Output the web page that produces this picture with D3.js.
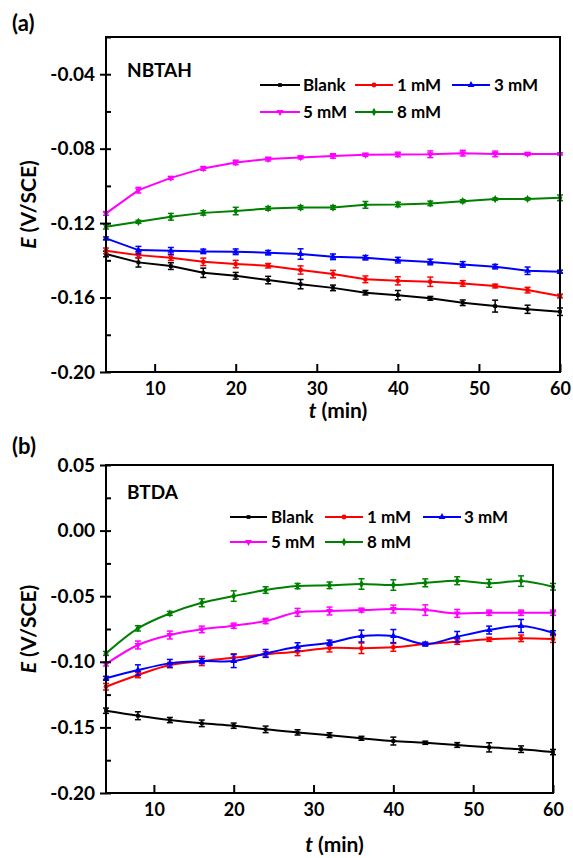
<!DOCTYPE html>
<html>
<head>
<meta charset="utf-8">
<script src="https://cdn.jsdelivr.net/npm/d3@7"></script>
<style>
  html, body { margin: 0; padding: 0; background: #fff; }
  svg { display: block; font-family: Lato, "Open Sans", sans-serif; font-weight: bold; }
</style>
</head>
<body>
<svg id="chart" width="573" height="858"></svg>
<script>
// ---------- DATA ----------
const times = [4, 8, 12, 16, 20, 24, 28, 32, 36, 40, 44, 48, 52, 56, 60];
const seriesNames = ["Blank", "1 mM", "3 mM", "5 mM", "8 mM"];
const seriesColors = ["#000000", "#ff0000", "#0000ff", "#ff00ff", "#008000"];

// Panel (a) NBTAH
const aBlank = [-0.1366, -0.1411, -0.1431, -0.1467, -0.1483, -0.1506, -0.1528, -0.1548, -0.1574, -0.1587, -0.1604, -0.1628, -0.1646, -0.1663, -0.1676];
const aBlankErr = [0.0015, 0.0025, 0.0018, 0.0025, 0.0018, 0.0020, 0.0025, 0.0015, 0.0012, 0.0025, 0.0010, 0.0015, 0.0032, 0.0022, 0.0020];
const a1mM = [-0.1349, -0.1372, -0.1386, -0.1408, -0.1420, -0.1429, -0.1452, -0.1474, -0.1502, -0.1510, -0.1515, -0.1524, -0.1538, -0.1560, -0.1592];
const a1mMErr = [0.0015, 0.0015, 0.0015, 0.0020, 0.0020, 0.0012, 0.0022, 0.0020, 0.0018, 0.0022, 0.0025, 0.0015, 0.0010, 0.0015, 0.0010];
const a3mM = [-0.1282, -0.1345, -0.1349, -0.1352, -0.1354, -0.1359, -0.1366, -0.1381, -0.1386, -0.1399, -0.1409, -0.1422, -0.1434, -0.1456, -0.1461];
const a3mMErr = [0.0008, 0.0020, 0.0018, 0.0012, 0.0015, 0.0012, 0.0028, 0.0015, 0.0012, 0.0015, 0.0015, 0.0015, 0.0012, 0.0020, 0.0008];
const a5mM = [-0.1148, -0.1023, -0.0957, -0.0906, -0.0874, -0.0856, -0.0847, -0.0839, -0.0833, -0.0831, -0.0830, -0.0824, -0.0828, -0.0828, -0.0828];
const a5mMErr = [0.0010, 0.0015, 0.0008, 0.0010, 0.0012, 0.0010, 0.0008, 0.0012, 0.0008, 0.0012, 0.0018, 0.0015, 0.0015, 0.0008, 0.0006];
const a8mM = [-0.1220, -0.1193, -0.1166, -0.1145, -0.1135, -0.1121, -0.1116, -0.1116, -0.1102, -0.1100, -0.1094, -0.1082, -0.1071, -0.1070, -0.1064];
const a8mMErr = [0.0012, 0.0008, 0.0018, 0.0012, 0.0020, 0.0010, 0.0010, 0.0010, 0.0018, 0.0012, 0.0012, 0.0008, 0.0006, 0.0006, 0.0015];

// Panel (b) BTDA
const bBlank = [-0.1373, -0.1411, -0.1444, -0.1469, -0.1487, -0.1515, -0.1538, -0.1559, -0.1583, -0.1604, -0.1617, -0.1634, -0.1652, -0.1666, -0.1688];
const bBlankErr = [0.0020, 0.0030, 0.0020, 0.0025, 0.0020, 0.0025, 0.0020, 0.0018, 0.0015, 0.0030, 0.0012, 0.0018, 0.0035, 0.0025, 0.0020];
const b1mM = [-0.1190, -0.1101, -0.1025, -0.0994, -0.0969, -0.0943, -0.0923, -0.0895, -0.0897, -0.0890, -0.0865, -0.0847, -0.0829, -0.0821, -0.0827];
const b1mMErr = [0.0025, 0.0020, 0.0020, 0.0035, 0.0030, 0.0020, 0.0030, 0.0030, 0.0040, 0.0030, 0.0010, 0.0020, 0.0015, 0.0025, 0.0025];
const b3mM = [-0.1126, -0.1063, -0.1012, -0.0994, -0.0994, -0.0936, -0.0885, -0.0855, -0.0804, -0.0804, -0.0865, -0.0809, -0.0758, -0.0727, -0.0778];
const b3mMErr = [0.0015, 0.0040, 0.0030, 0.0020, 0.0050, 0.0030, 0.0030, 0.0020, 0.0045, 0.0050, 0.0015, 0.0040, 0.0030, 0.0050, 0.0015];
const b5mM = [-0.1017, -0.0872, -0.0796, -0.0753, -0.0725, -0.0689, -0.0623, -0.0613, -0.0606, -0.0598, -0.0606, -0.0631, -0.0626, -0.0626, -0.0626];
const b5mMErr = [0.0015, 0.0030, 0.0030, 0.0025, 0.0020, 0.0020, 0.0030, 0.0030, 0.0015, 0.0030, 0.0040, 0.0030, 0.0020, 0.0020, 0.0020];
const b8mM = [-0.0936, -0.0745, -0.0631, -0.0550, -0.0499, -0.0453, -0.0423, -0.0417, -0.0407, -0.0415, -0.0398, -0.0382, -0.0402, -0.0385, -0.0428];
const b8mMErr = [0.0015, 0.0020, 0.0015, 0.0030, 0.0040, 0.0025, 0.0020, 0.0025, 0.0040, 0.0040, 0.0030, 0.0030, 0.0030, 0.0040, 0.0025];

const xTicks = [10, 20, 30, 40, 50, 60];
const aYTicks = [-0.20, -0.16, -0.12, -0.08, -0.04];
const aYMinor = [-0.18, -0.14, -0.10, -0.06, -0.02];
const bYTicks = [-0.20, -0.15, -0.10, -0.05, 0.00, 0.05];
const bYMinor = [-0.175, -0.125, -0.075, -0.025, 0.025];

const hyphenLocale = d3.formatLocale({decimal: ".", thousands: ",", grouping: [3], currency: ["", ""], minus: "-"});
const yFormat = hyphenLocale.format(".2f");

const panels = [
  {
    tag: "(a)", name: "NBTAH",
    box: {left: 106, right: 560, top: 37, bottom: 372},
    yDomain: [-0.20, -0.02], yTicks: aYTicks, yMinor: aYMinor,
    series: [[aBlank, aBlankErr], [a1mM, a1mMErr], [a3mM, a3mMErr], [a5mM, a5mMErr], [a8mM, a8mMErr]],
    curve: d3.curveLinear,
    tagPos: [12, 31], namePos: [127, 77],
    legend: {rows: [85, 112], cols: [[260, 300, 303], [355, 393, 397], [452, 490, 494]]},
    xTitleY: 418
  },
  {
    tag: "(b)", name: "BTDA",
    box: {left: 106, right: 553, top: 465, bottom: 793},
    yDomain: [-0.20, 0.05], yTicks: bYTicks, yMinor: bYMinor,
    series: [[bBlank, bBlankErr], [b1mM, b1mMErr], [b3mM, b3mMErr], [b5mM, b5mMErr], [b8mM, b8mMErr]],
    curve: d3.curveCatmullRom.alpha(0.5),
    tagPos: [12, 454], namePos: [127, 499],
    legend: {rows: [517, 542], cols: [[230, 267, 271], [325, 363, 367], [423, 461, 464]]},
    xTitleY: 852
  }
];

const symbols = [
  {type: d3.symbolSquare, size: 14, rot: 0},
  {type: d3.symbolCircle, size: 18, rot: 0},
  {type: d3.symbolTriangle, size: 20, rot: 0},
  {type: d3.symbolTriangle, size: 20, rot: 180},
  {type: d3.symbolDiamond, size: 20, rot: 0}
];

const svg = d3.select("#chart");

panels.forEach(p => {
  const g = svg.append("g");
  const x = d3.scaleLinear().domain([4, 60]).range([p.box.left, p.box.right]);
  const y = d3.scaleLinear().domain(p.yDomain).range([p.box.bottom, p.box.top]);

  // series
  p.series.forEach((s, i) => {
    const vals = s[0], errs = s[1];
    const color = seriesColors[i];
    const pts = times.map((t, k) => ({t, v: vals[k], e: errs[k]}));
    const line = d3.line().x(d => x(d.t)).y(d => y(d.v)).curve(p.curve);
    g.append("path").attr("d", line(pts)).attr("fill", "none")
      .attr("stroke", color).attr("stroke-width", 2);
    const eb = g.append("g").attr("stroke", color).attr("stroke-width", 1.5);
    pts.forEach(d => {
      const cx = x(d.t), y1 = y(d.v + d.e), y2 = y(d.v - d.e);
      eb.append("line").attr("x1", cx).attr("x2", cx).attr("y1", y1).attr("y2", y2);
      eb.append("line").attr("x1", cx - 3).attr("x2", cx + 3).attr("y1", y1).attr("y2", y1);
      eb.append("line").attr("x1", cx - 3).attr("x2", cx + 3).attr("y1", y2).attr("y2", y2);
    });
    const sym = d3.symbol().type(symbols[i].type).size(symbols[i].size);
    g.append("g").selectAll("path").data(pts).join("path")
      .attr("d", sym)
      .attr("transform", d => `translate(${x(d.t)},${y(d.v)}) rotate(${symbols[i].rot})`)
      .attr("fill", color);
  });

  // frame
  g.append("rect").attr("x", p.box.left).attr("y", p.box.top)
    .attr("width", p.box.right - p.box.left).attr("height", p.box.bottom - p.box.top)
    .attr("fill", "none").attr("stroke", "#000").attr("stroke-width", 2);

  // x axis
  const xAxis = d3.axisBottom(x).tickValues(xTicks).tickSizeInner(-8).tickSizeOuter(0).tickPadding(10).tickFormat(d3.format("d"));
  const xg = g.append("g").attr("transform", `translate(0,${p.box.bottom})`).call(xAxis);
  xg.select(".domain").remove();
  xg.selectAll(".tick line").attr("stroke-width", 2);
  xg.selectAll("text").attr("font-size", 18).attr("font-family", "Lato, sans-serif").attr("font-weight", "bold").attr("fill", "#000");

  // y axis major (cross ticks)
  const yAxis = d3.axisLeft(y).tickValues(p.yTicks).tickSizeInner(6).tickSizeOuter(0).tickPadding(5).tickFormat(yFormat);
  const yg = g.append("g").attr("transform", `translate(${p.box.left},0)`).call(yAxis);
  yg.select(".domain").remove();
  yg.selectAll(".tick line").attr("x2", -6).attr("x1", 5).attr("stroke-width", 2);
  yg.selectAll("text").attr("font-size", 19).attr("font-family", "Lato, sans-serif").attr("font-weight", "bold").attr("fill", "#000");
  // y minor ticks (inward)
  const ym = d3.axisLeft(y).tickValues(p.yMinor).tickSizeInner(-5).tickSizeOuter(0).tickFormat("");
  const ymg = g.append("g").attr("transform", `translate(${p.box.left},0)`).call(ym);
  ymg.select(".domain").remove();
  ymg.selectAll(".tick line").attr("stroke-width", 2);

  // titles
  g.append("text").attr("x", p.tagPos[0]).attr("y", p.tagPos[1]).attr("font-size", 22).text(p.tag);
  g.append("text").attr("x", p.namePos[0]).attr("y", p.namePos[1]).attr("font-size", 19).text(p.name);

  const yMid = (p.box.top + p.box.bottom) / 2;
  const yt = g.append("text").attr("transform", `translate(36,${yMid}) rotate(-90)`)
    .attr("text-anchor", "middle").attr("font-size", 21);
  yt.append("tspan").attr("font-style", "italic").text("E");
  yt.append("tspan").text(" (V/SCE)");

  const xMid = (p.box.left + p.box.right) / 2 + 5;
  const xt = g.append("text").attr("x", xMid).attr("y", p.xTitleY).attr("text-anchor", "middle").attr("font-size", 21);
  xt.append("tspan").attr("font-style", "italic").text("t");
  xt.append("tspan").text(" (min)");

  // legend
  seriesNames.forEach((name, i) => {
    const row = i < 3 ? 0 : 1;
    const col = i < 3 ? i : i - 3;
    const c = p.legend.cols[col];
    const ly = p.legend.rows[row];
    const lg = g.append("g");
    lg.append("line").attr("x1", c[0]).attr("x2", c[1]).attr("y1", ly).attr("y2", ly)
      .attr("stroke", seriesColors[i]).attr("stroke-width", 2);
    lg.append("path").attr("d", d3.symbol().type(symbols[i].type).size(symbols[i].size)())
      .attr("transform", `translate(${(c[0] + c[1]) / 2},${ly}) rotate(${symbols[i].rot})`)
      .attr("fill", seriesColors[i]);
    lg.append("text").attr("x", c[2]).attr("y", ly).attr("dy", "0.35em").attr("font-size", 17).text(name);
  });
});
</script>
</body>
</html>
